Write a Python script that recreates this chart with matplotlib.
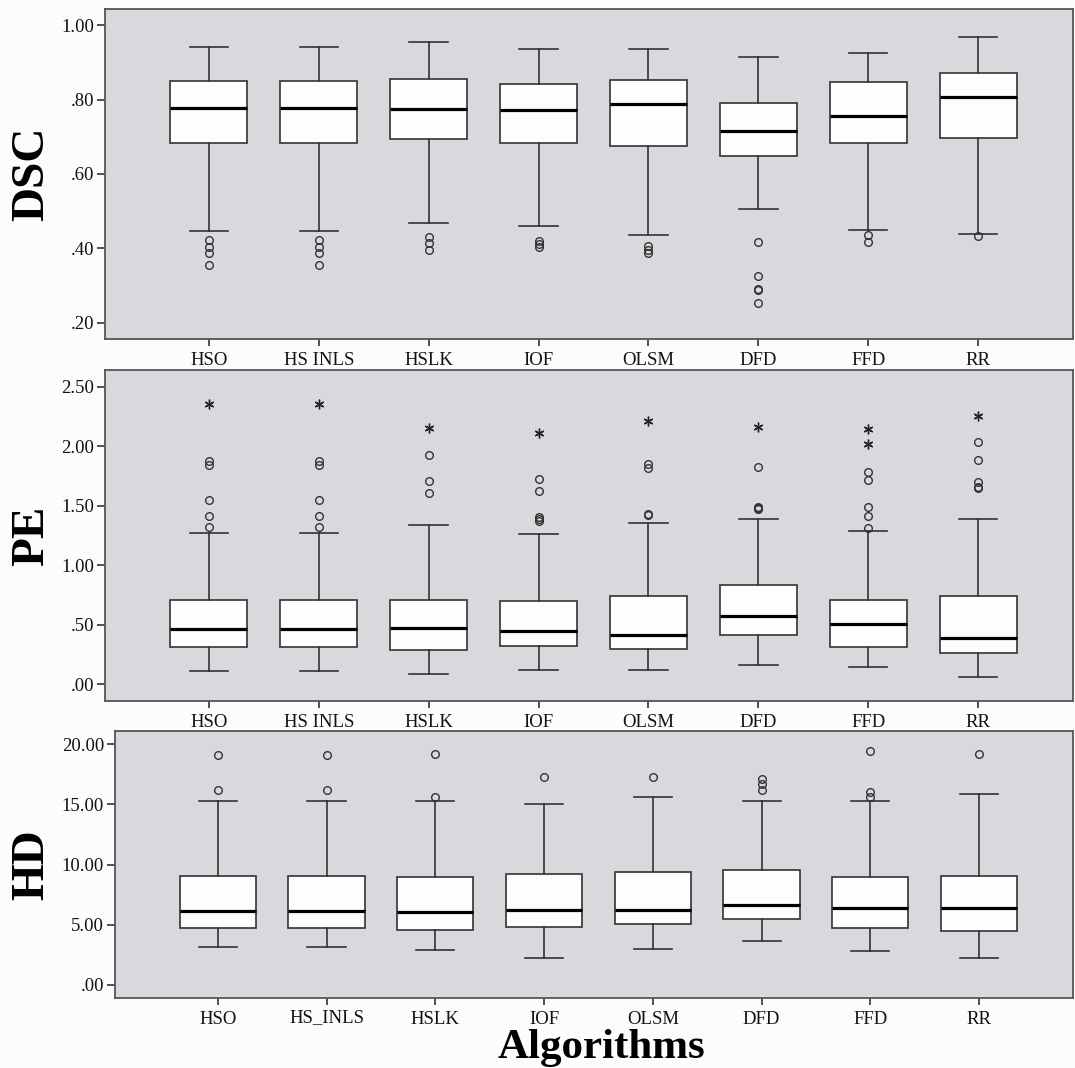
# box plots of DSC / PE / HD for eight algorithms
import matplotlib
matplotlib.use('Agg')
import matplotlib.pyplot as plt
from matplotlib.ticker import FuncFormatter
from matplotlib.transforms import ScaledTranslation

algorithms = ['HSO', 'HS_INLS', 'HSLK', 'IOF', 'OLSM', 'DFD', 'FFD', 'RR']

# DSC
dsc_whishi = [0.941, 0.941, 0.954, 0.936, 0.935, 0.915, 0.926, 0.969]
dsc_q3 = [0.850, 0.850, 0.856, 0.841, 0.852, 0.791, 0.846, 0.870]
dsc_med = [0.777, 0.777, 0.775, 0.772, 0.787, 0.715, 0.755, 0.808]
dsc_q1 = [0.683, 0.683, 0.694, 0.682, 0.676, 0.649, 0.682, 0.697]
dsc_whislo = [0.446, 0.446, 0.469, 0.461, 0.435, 0.505, 0.450, 0.440]
dsc_out = [[0.423, 0.403, 0.387, 0.356], [0.423, 0.403, 0.387, 0.356],
           [0.432, 0.414, 0.396], [0.419, 0.412, 0.405],
           [0.407, 0.396, 0.388], [0.418, 0.326, 0.291, 0.289, 0.253],
           [0.437, 0.417], [0.434]]
dsc_ext = [[], [], [], [], [], [], [], []]

# PE
pe_whishi = [1.274, 1.274, 1.336, 1.265, 1.353, 1.386, 1.288, 1.389]
pe_q3 = [0.710, 0.710, 0.710, 0.699, 0.741, 0.833, 0.710, 0.743]
pe_med = [0.463, 0.463, 0.471, 0.446, 0.410, 0.572, 0.505, 0.385]
pe_q1 = [0.311, 0.311, 0.286, 0.320, 0.292, 0.415, 0.311, 0.258]
pe_whislo = [0.112, 0.112, 0.084, 0.118, 0.120, 0.162, 0.143, 0.056]
pe_out = [[1.880, 1.843, 1.546, 1.410, 1.319], [1.880, 1.843, 1.546, 1.410, 1.319],
          [1.925, 1.711, 1.605], [1.726, 1.622, 1.403, 1.390, 1.375],
          [1.852, 1.818, 1.431, 1.425], [1.830, 1.490, 1.479, 1.470],
          [1.787, 1.715, 1.490, 1.410, 1.313], [2.040, 1.888, 1.703, 1.660, 1.647]]
pe_ext = [[2.357], [2.357], [2.158], [2.115], [2.214], [2.161], [2.144, 2.020], [2.256]]

# HD
hd_whishi = [15.23, 15.23, 15.26, 15.06, 15.64, 15.31, 15.23, 15.81]
hd_q3 = [9.08, 9.08, 9.00, 9.22, 9.36, 9.55, 8.97, 9.03]
hd_med = [6.17, 6.17, 6.04, 6.20, 6.20, 6.64, 6.37, 6.37]
hd_q1 = [4.73, 4.73, 4.60, 4.82, 5.04, 5.51, 4.71, 4.46]
hd_whislo = [3.18, 3.18, 2.88, 2.24, 3.02, 3.63, 2.85, 2.27]
hd_out = [[19.05, 16.17], [19.05, 16.17], [19.13, 15.64], [17.30], [17.28],
          [17.13, 16.67, 16.20], [19.44, 16.03, 15.59], [19.13]]
hd_ext = [[], [], [], [], [], [], [], []]

bg = '#dad8dc'
line = '#333333'
serif = ['Liberation Serif', 'DejaVu Serif']

fig = plt.figure(figsize=(10.75, 10.68), dpi=100, facecolor='#fbfcfb')

W, H = 1075.0, 1068.0
# [left, top, right, bottom] in pixels
boxes_px = [(105, 9, 1073, 339), (105, 370, 1073, 701), (115, 731, 1073, 998)]

panels = [
    ('DSC', dsc_whislo, dsc_q1, dsc_med, dsc_q3, dsc_whishi, dsc_out, dsc_ext,
     (0.157, 1.043), [0.2, 0.4, 0.6, 0.8, 1.0]),
    ('PE', pe_whislo, pe_q1, pe_med, pe_q3, pe_whishi, pe_out, pe_ext,
     (-0.143, 2.643), [0.0, 0.5, 1.0, 1.5, 2.0, 2.5]),
    ('HD', hd_whislo, hd_q1, hd_med, hd_q3, hd_whishi, hd_out, hd_ext,
     (-1.08, 21.08), [0, 5, 10, 15, 20]),
]

fmt = FuncFormatter(lambda v, p: ('%.2f' % v).lstrip('0') if abs(v) < 1 else '%.2f' % v)

for i, (name, lo, q1, med, q3, hi, out, ext, ylim, yticks) in enumerate(panels):
    l, t, r, b = boxes_px[i]
    ax = fig.add_axes([l / W, 1 - b / H, (r - l) / W, (b - t) / H])
    ax.set_facecolor(bg)
    stats = []
    for k in range(len(algorithms)):
        stats.append(dict(whislo=lo[k], q1=q1[k], med=med[k], q3=q3[k],
                          whishi=hi[k], fliers=out[k]))
    pos = list(range(len(algorithms)))
    ax.bxp(stats, positions=pos, widths=0.7, patch_artist=True, capwidths=0.35,
           boxprops=dict(facecolor='#fcfdfc', edgecolor=line, linewidth=1.2),
           medianprops=dict(color='black', linewidth=2.3),
           whiskerprops=dict(color=line, linewidth=1.2),
           capprops=dict(color=line, linewidth=1.2),
           flierprops=dict(marker='o', markersize=5.5, markerfacecolor='none',
                           markeredgecolor=line, markeredgewidth=1.0))
    # extreme values drawn as asterisks
    for k in pos:
        if ext[k]:
            ax.plot([k] * len(ext[k]), ext[k], linestyle='none', marker=(6, 2, 0),
                    markersize=7, markeredgewidth=1.0, color='#222222')
    ax.set_xlim(-0.945, 7.864)
    ax.set_ylim(*ylim)
    ax.set_yticks(yticks)
    ax.yaxis.set_major_formatter(fmt)
    labels = algorithms if i == 2 else [a.replace('_', ' ') for a in algorithms]
    ax.set_xticks(pos)
    ax.set_xticklabels(labels)
    ax.tick_params(axis='x', length=5, width=1.2, color=line, pad=13.5)
    ax.tick_params(axis='y', length=6, width=1.2, color=line, pad=2)
    for lab in ax.get_xticklabels() + ax.get_yticklabels():
        lab.set_family(serif)
        lab.set_fontsize(13.5)
        lab.set_color('#111111')
    for lab in ax.get_xticklabels():
        lab.set_verticalalignment('baseline')
        if '_' in lab.get_text():
            # underscore pushes the label down a little; lift it back
            lab.set_transform(lab.get_transform() +
                              ScaledTranslation(0, 1.1 / 72, fig.dpi_scale_trans))
    for s in ax.spines.values():
        s.set_color('#555555')
        s.set_linewidth(1.3)
    fig.text(32 / W, 1 - ((t + b) / 2) / H, name, rotation=90, ha='center', va='center',
             family=serif, fontsize=34, fontweight='bold')

fig.text(601 / W, 1 - 1058 / H, 'Algorithms', ha='center', va='baseline',
         family=serif, fontsize=31, fontweight='bold')

fig.savefig('out.png', dpi=100, facecolor=fig.get_facecolor())
